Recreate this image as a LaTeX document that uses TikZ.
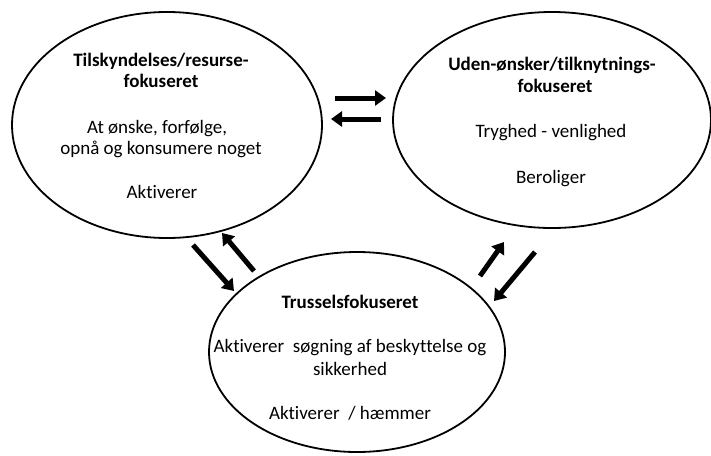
\documentclass[tikz,border=0pt]{standalone}
\usepackage{fontspec}
\setmainfont{Carlito}[Ligatures=NoCommon]
\usetikzlibrary{shapes.geometric,arrows.meta}

\begin{document}
\begin{tikzpicture}[x=1pt,y=-1pt,
  ring/.style={draw, line width=1.8pt, ellipse, inner sep=0pt},
  body/.style={font=\fontsize{19}{21}\selectfont, anchor=base, inner sep=0pt},
  head/.style={body, font=\fontsize{19}{21}\selectfont\bfseries},
  flow/.style={line width=5pt, -{Triangle[length=11pt,width=15pt]}}]

  \useasboundingbox (0,0) rectangle (711,455);

  % the three mind states
  \node[ring, minimum width=310pt, minimum height=226pt] (drive) at (167,125) {};
  \node[ring, minimum width=318pt, minimum height=216pt] (soothe) at (552,120) {};
  \node[ring, minimum width=296pt, minimum height=200pt] (threat) at (357,352) {};

  % texts of the drive system
  \node[head] (d1) at (161,66) {Tilskyndelses/resurse-};
  \node[head] (d2) at (161,87) {fokuseret};
  \node[body] (d3) at (157,133) {At ønske, forfølge,};
  \node[body] (d4) at (161,154) {opnå og konsumere noget};
  \node[body] (d5) at (162,198) {Aktiverer};

  % texts of the soothing system
  \node[head] (s1) at (552,70) {Uden-ønsker/tilknytnings-};
  \node[head] (s2) at (555,92) {fokuseret};
  \node[body] (s3) at (551,137) {Tryghed - venlighed};
  \node[body] (s4) at (551,183) {Beroliger};

  % texts of the threat system
  \node[head] (t1) at (350,308) {Trusselsfokuseret};
  \node[body] (t2) at (350,352) {Aktiverer\ \ søgning af beskyttelse og};
  \node[body] (t3) at (350,375) {sikkerhed};
  \node[body] (t4) at (350,419) {Aktiverer\ \ / hæmmer};

  % arrow end points between the ellipses
  \coordinate (ds0) at (335,98);  \coordinate (ds1) at (386,98);
  \coordinate (sd0) at (381,119); \coordinate (sd1) at (331,119);
  \coordinate (dt0) at (193,245); \coordinate (dt1) at (234,291);
  \coordinate (td0) at (254,271); \coordinate (td1) at (222,233);
  \coordinate (ts0) at (480,276); \coordinate (ts1) at (504,242);
  \coordinate (st0) at (535,252); \coordinate (st1) at (494,301);

  \draw[flow] (ds0) -- (ds1);
  \draw[flow] (sd0) -- (sd1);
  \draw[flow] (dt0) -- (dt1);
  \draw[flow] (td0) -- (td1);
  \draw[flow] (ts0) -- (ts1);
  \draw[flow] (st0) -- (st1);
\end{tikzpicture}
\end{document}
